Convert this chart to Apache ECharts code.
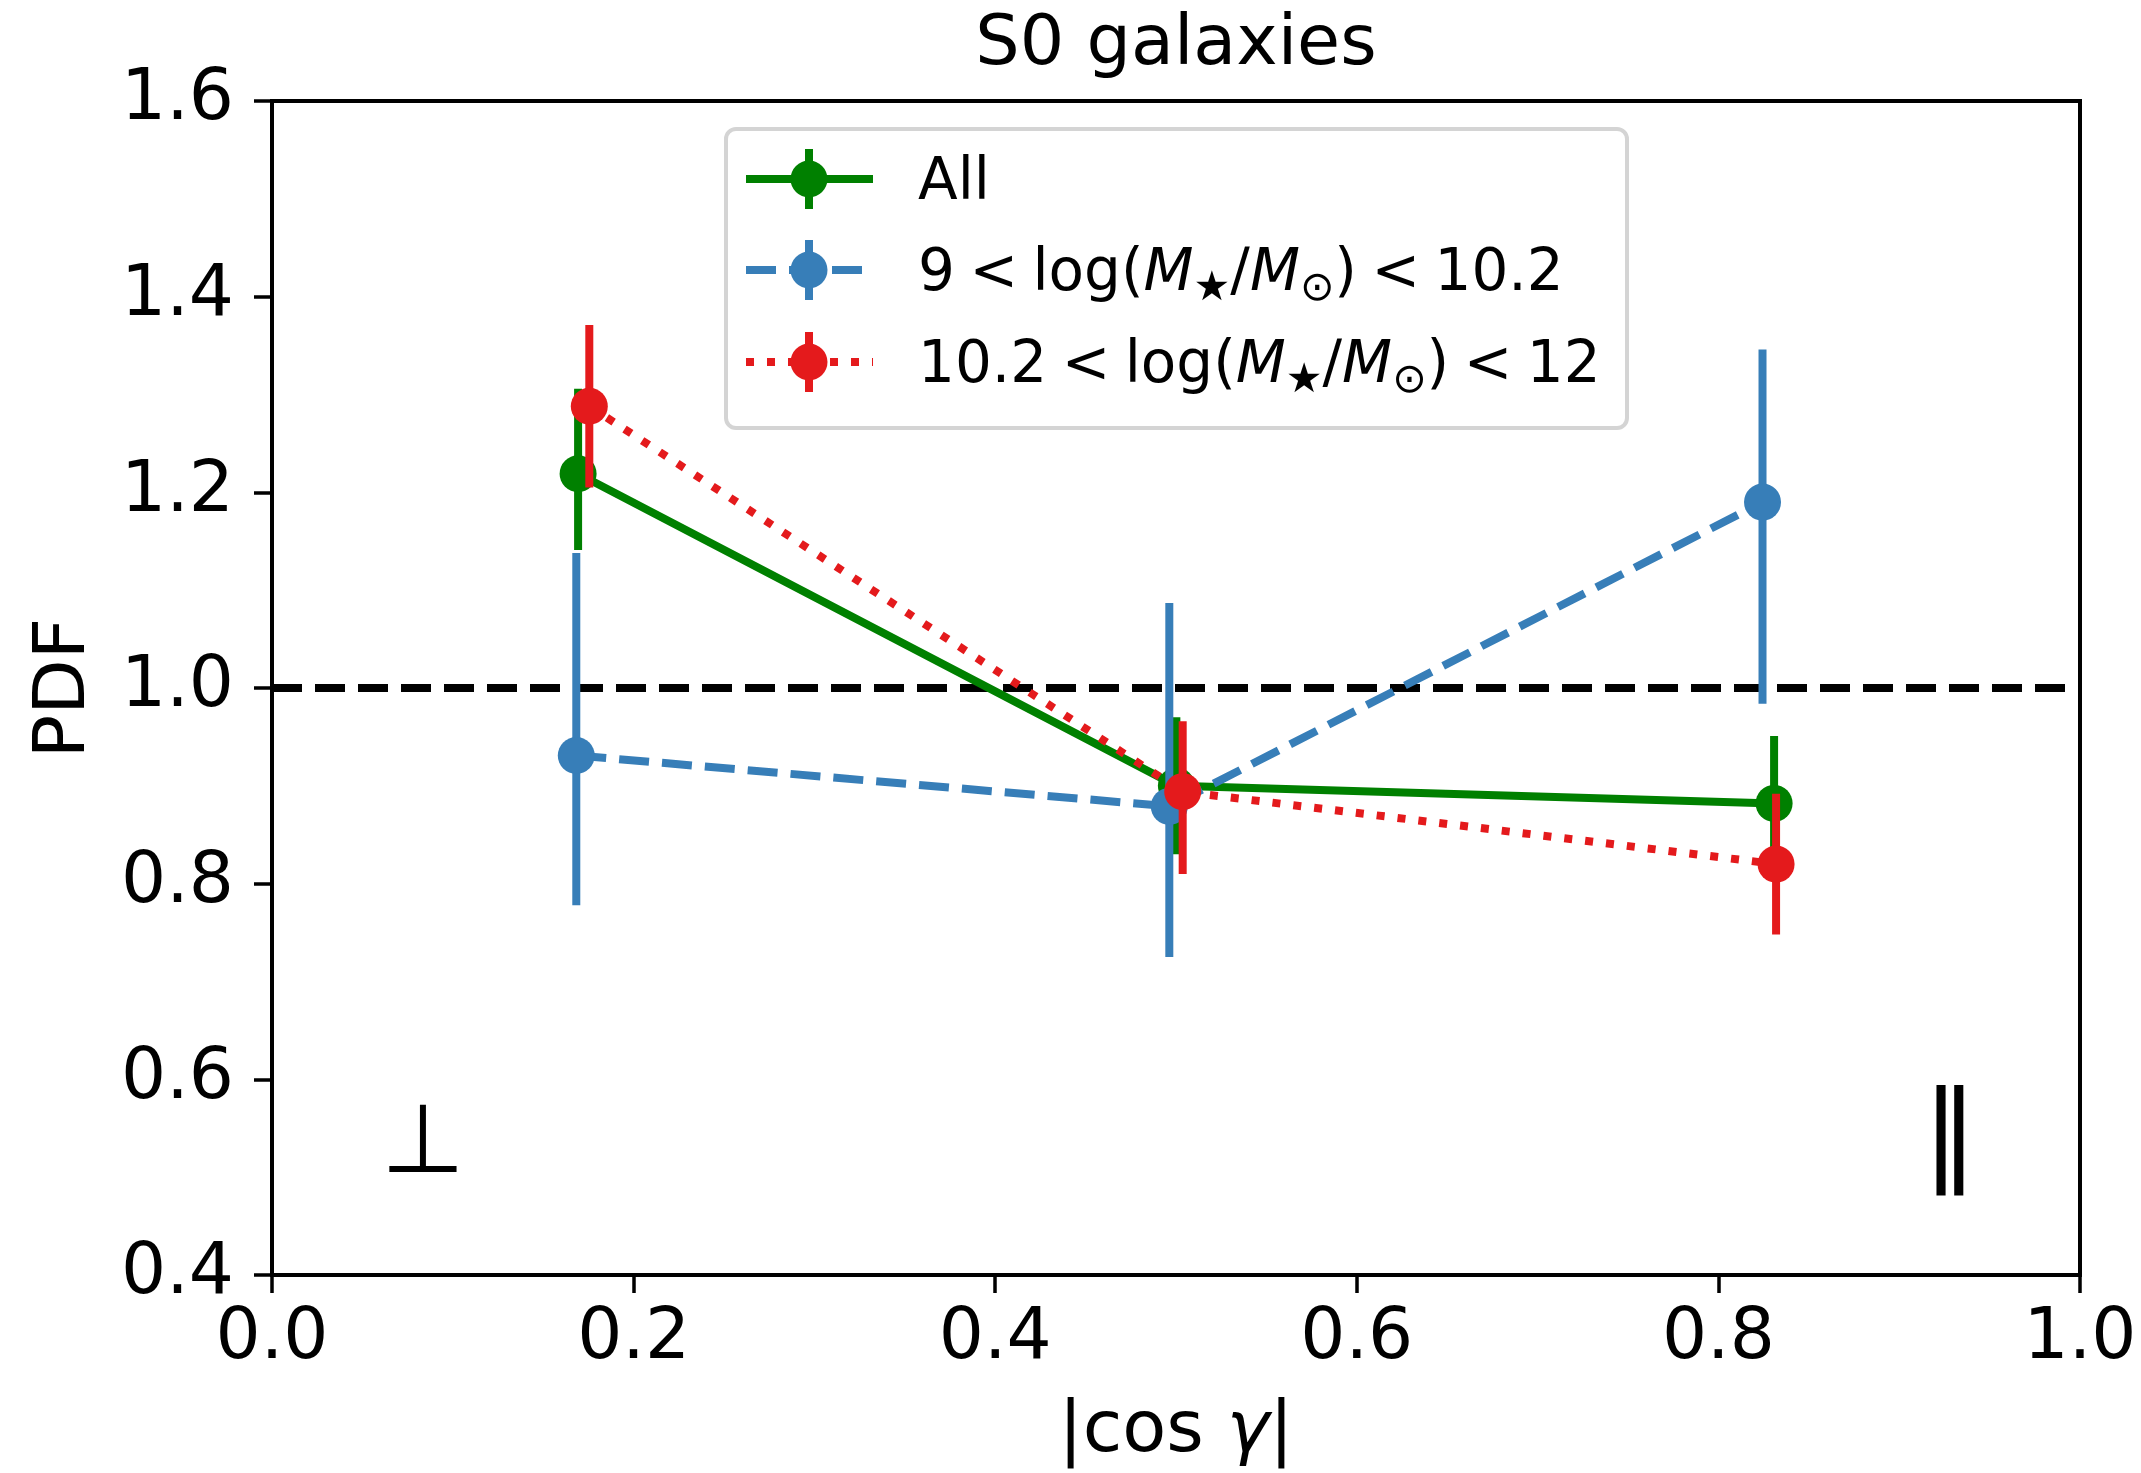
<!DOCTYPE html>
<html>
<head>
<meta charset="utf-8">
<script src="https://cdn.jsdelivr.net/npm/echarts@6/dist/echarts.min.js"></script>
<style>
  html, body { margin: 0; padding: 0; background: #ffffff; }
  #chart { width: 2141px; height: 1473px; }
</style>
</head>
<body>
<div id="chart"></div>
<script>
// Axis ticks
const xTicks = [0.0, 0.2, 0.4, 0.6, 0.8, 1.0];
const yTicks = [0.4, 0.6, 0.8, 1.0, 1.2, 1.4, 1.6];

// Isotropic expectation
const refLevel = 1.0;

// All S0 galaxies
const allX = [0.1693, 0.5002, 0.8308];
const allY = [1.219, 0.900, 0.882];
const allLow = [1.141, 0.830, 0.812];
const allHigh = [1.306, 0.970, 0.951];

// 9 < log(M*/Msun) < 10.2
const lowMassX = [0.1683, 0.4963, 0.8244];
const lowMassY = [0.931, 0.879, 1.190];
const lowMassLow = [0.778, 0.725, 0.984];
const lowMassHigh = [1.138, 1.087, 1.346];

// 10.2 < log(M*/Msun) < 12
const highMassX = [0.1755, 0.5037, 0.8319];
const highMassY = [1.288, 0.894, 0.820];
const highMassLow = [1.205, 0.810, 0.748];
const highMassHigh = [1.371, 0.966, 0.892];

// Legend labels (math spacing uses four-per-em spaces around "<")
const SP = '\u2005';
const seriesNames = [
  'All',
  '9' + SP + '<' + SP + 'log({i|M}{sub|★}/{i|M}{sub|⊙})' + SP + '<' + SP + '10.2',
  '10.2' + SP + '<' + SP + 'log({i|M}{sub|★}/{i|M}{sub|⊙})' + SP + '<' + SP + '12'
];

const FONT = 'DejaVu Sans';
const GREEN = '#008000';
const BLUE = '#377eb8';
const RED = '#e41a1c';
const LW = 8;
const DASHED = [30, 13];
const DOTTED = [8, 13];

const chart = echarts.init(document.getElementById('chart'), null, { renderer: 'canvas' });

function pairs(xs, ys) {
  return xs.map((x, i) => [x, ys[i]]);
}

function errorBars(name, xs, lows, highs, color, z) {
  return {
    type: 'custom',
    name: name,
    z: z,
    silent: true,
    animation: false,
    data: xs.map((x, i) => [x, lows[i], highs[i]]),
    renderItem: function (params, api) {
      const p0 = api.coord([api.value(0), api.value(1)]);
      const p1 = api.coord([api.value(0), api.value(2)]);
      return {
        type: 'line',
        shape: { x1: p0[0], y1: p0[1], x2: p1[0], y2: p1[1] },
        style: { stroke: color, lineWidth: LW, lineCap: 'butt' }
      };
    }
  };
}

function pointLine(name, xs, ys, color, dash, z) {
  return {
    type: 'line',
    name: name,
    z: z,
    silent: true,
    animation: false,
    data: pairs(xs, ys),
    symbol: 'circle',
    symbolSize: 37,
    showSymbol: true,
    itemStyle: { color: color, borderWidth: 0 },
    lineStyle: { color: color, width: LW, type: dash }
  };
}

const richMath = {
  i: { fontFamily: FONT, fontStyle: 'italic', fontSize: 58, lineHeight: 70, color: '#000' },
  sub: { fontFamily: FONT, fontSize: 41, lineHeight: 41, color: '#000',
         padding: [42, 0, 0, 0], verticalAlign: 'bottom' }
};

// Legend block drawn with graphic elements (handle = line + error bar + marker)
const legendBox = { x: 726, y: 129, w: 901, h: 299 };
const legendRows = [179, 270, 362];
const legendStyles = [
  { color: GREEN, dash: null },
  { color: BLUE, dash: DASHED },
  { color: RED, dash: DOTTED }
];

function legendGraphics() {
  const els = [{
    type: 'rect',
    shape: { x: legendBox.x, y: legendBox.y, width: legendBox.w, height: legendBox.h, r: 10 },
    style: { fill: 'rgba(255,255,255,0.8)', stroke: '#d4d4d4', lineWidth: 4 },
    z: 100
  }];
  legendRows.forEach((cy, k) => {
    const st = legendStyles[k];
    els.push({
      type: 'line', z: 101,
      shape: { x1: 746, y1: cy, x2: 873, y2: cy },
      style: { stroke: st.color, lineWidth: LW, lineDash: st.dash, lineCap: 'butt' }
    });
    els.push({
      type: 'line', z: 101,
      shape: { x1: 809, y1: cy - 30, x2: 809, y2: cy + 30 },
      style: { stroke: st.color, lineWidth: LW }
    });
    els.push({
      type: 'circle', z: 102,
      shape: { cx: 809, cy: cy, r: 18.5 },
      style: { fill: st.color }
    });
    els.push({
      type: 'text', z: 102,
      x: 918, y: cy + 5,
      style: {
        text: seriesNames[k],
        fontFamily: FONT, fontSize: 58, lineHeight: 70, fill: '#000',
        align: 'left', verticalAlign: 'middle',
        rich: richMath
      }
    });
  });
  return els;
}

const option = {
  backgroundColor: '#ffffff',
  animation: false,
  textStyle: { fontFamily: FONT },
  grid: {
    left: 272, right: 61, top: 101, bottom: 198,
    show: true, borderColor: '#000', borderWidth: 4, backgroundColor: 'transparent'
  },
  xAxis: {
    type: 'value',
    min: xTicks[0], max: xTicks[xTicks.length - 1], interval: 0.2,
    name: '|cos {i|γ}|',
    nameLocation: 'middle',
    nameGap: 121,
    nameTextStyle: {
      fontFamily: FONT, fontSize: 72, color: '#000',
      rich: { i: { fontFamily: FONT, fontStyle: 'italic', fontSize: 72, color: '#000' } }
    },
    axisLine: { show: true, onZero: false, lineStyle: { color: '#000', width: 4 } },
    axisTick: { show: true, inside: false, length: 18, lineStyle: { color: '#000', width: 3.5 } },
    axisLabel: {
      show: true, margin: 29, fontFamily: FONT, fontSize: 71, color: '#000',
      formatter: v => v.toFixed(1)
    },
    splitLine: { show: false }
  },
  yAxis: {
    type: 'value',
    min: yTicks[0], max: yTicks[yTicks.length - 1], interval: 0.2,
    name: 'PDF',
    nameLocation: 'middle',
    nameGap: 171,
    nameRotate: 90,
    nameTextStyle: { fontFamily: FONT, fontSize: 72, color: '#000' },
    axisLine: { show: true, onZero: false, lineStyle: { color: '#000', width: 4 } },
    axisTick: { show: true, inside: false, length: 18, lineStyle: { color: '#000', width: 3.5 } },
    axisLabel: {
      show: true, margin: 38, fontFamily: FONT, fontSize: 71, color: '#000',
      formatter: v => v.toFixed(1)
    },
    splitLine: { show: false }
  },
  graphic: [
    {
      type: 'text', x: 1176, y: 46,
      style: { text: 'S0 galaxies', fontFamily: FONT, fontSize: 70, fill: '#000',
               align: 'center', verticalAlign: 'middle' }
    },
    {
      type: 'text', x: 423, y: 1147,
      style: { text: '⊥', fontFamily: FONT, fontSize: 96, fill: '#000',
               align: 'center', verticalAlign: 'middle' }
    },
    {
      type: 'text', x: 1950, y: 1140,
      style: { text: '‖', fontFamily: FONT, fontSize: 110, fill: '#000',
               align: 'center', verticalAlign: 'middle' }
    }
  ].concat(legendGraphics()),
  series: [
    {
      type: 'line', name: 'reference', z: 1, silent: true, animation: false,
      data: [[xTicks[0], refLevel], [xTicks[xTicks.length - 1], refLevel]],
      symbol: 'none',
      lineStyle: { color: '#000', width: LW, type: DASHED }
    },
    errorBars('All err', allX, allLow, allHigh, GREEN, 2),
    pointLine('All', allX, allY, GREEN, 'solid', 3),
    errorBars('low err', lowMassX, lowMassLow, lowMassHigh, BLUE, 4),
    pointLine('low', lowMassX, lowMassY, BLUE, DASHED, 5),
    errorBars('high err', highMassX, highMassLow, highMassHigh, RED, 6),
    pointLine('high', highMassX, highMassY, RED, DOTTED, 7)
  ]
};

chart.setOption(option);
</script>
</body>
</html>
